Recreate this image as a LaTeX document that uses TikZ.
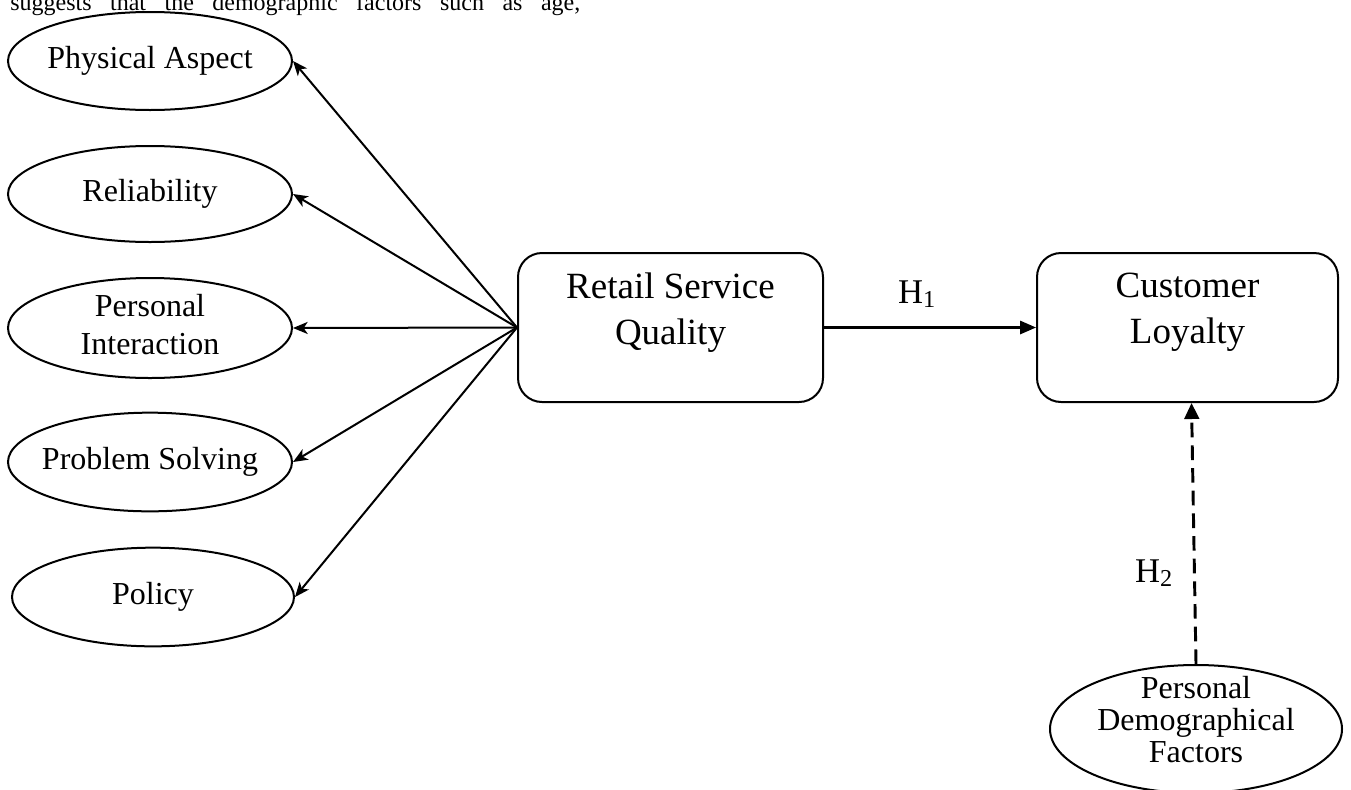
\documentclass[tikz,border=0pt]{standalone}
\usepackage{fontspec}
\setmainfont{Liberation Serif}
\usetikzlibrary{arrows.meta,shapes.geometric}
\begin{document}
\begin{tikzpicture}[x=0.75pt,y=-0.75pt,
  oval/.style={draw, ellipse, line width=1.5pt, inner sep=0pt},
  etxt/.style={font=\fontsize{24}{28.5}\selectfont, align=center},
  rbox/.style={draw, rounded corners=18pt, line width=1.5pt, minimum width=228.75pt, minimum height=111.75pt, inner sep=0pt},
  btxt/.style={font=\fontsize{27.75}{34.5}\selectfont, align=center},
  fan/.style={line width=1.5pt, -{Stealth[length=11pt,width=9pt,inset=3pt]}},
  solidarrow/.style={line width=1.6pt, -{Triangle[length=12pt,width=10pt]}},
  dasharrow/.style={line width=2.2pt, dash pattern=on 11pt off 6pt, -{Triangle[length=12pt,width=11pt]}},
  hyp/.style={font=\fontsize{26}{30}\selectfont, inner sep=0pt},
]
\useasboundingbox (0,0) rectangle (1351,789);

% top text line (cut off at the top edge, as in the reference)
\node[anchor=base west, font=\fontsize{18}{22}\selectfont, inner sep=0pt] (toptext) at (10,10)
  {\makebox[427.5pt][s]{suggests that the demographic factors such as age,}};

% ellipses
\node[oval, minimum width=213pt, minimum height=73.5pt,
  label={[etxt]center:Physical Aspect}] (pa) at (150,61) {};
\node[oval, minimum width=213pt, minimum height=72pt,
  label={[etxt]center:Reliability}] (rel) at (150,194) {};
\node[oval, minimum width=213pt, minimum height=75pt,
  label={[etxt,yshift=2.25pt]center:{Personal\\Interaction}}] (pi) at (150,328) {};
\node[oval, minimum width=213pt, minimum height=74pt,
  label={[etxt]center:Problem Solving}] (ps) at (150,462) {};
\node[oval, minimum width=211.5pt, minimum height=74pt,
  label={[etxt]center:Policy}] (pol) at (153,597) {};
\node[oval, minimum width=219pt, minimum height=96pt,
  label={[font=\fontsize{24}{24}\selectfont, align=center, yshift=6.75pt]center:{Personal\\Demographical\\Factors}}] (pdf) at (1196,729) {};

% boxes
\node[rbox, label={[btxt,yshift=11.25pt]center:{Retail Service\\Quality}}] (rsq) at (670.5,327.5) {};
\node[rbox, minimum width=225.75pt, label={[btxt,yshift=11.25pt]center:{Customer\\Loyalty}}] (cl) at (1187.5,327.5) {};

% fan arrows
\draw[fan] (rsq.west) -- (pa.east);
\draw[fan] (rsq.west) -- (rel.east);
\draw[fan] (rsq.west) -- (pi.east);
\draw[fan] (rsq.west) -- (ps.east);
\draw[fan] (rsq.west) -- (pol.east);

% hypotheses
\draw[solidarrow] (rsq.east) -- (cl.west);
\node[hyp, anchor=base] (h1) at (917,303) {H\textsubscript{1}};
\draw[dasharrow] (pdf.north) -- ([xshift=3pt]cl.south);
\node[hyp, anchor=base] (h2) at (1154,582) {H\textsubscript{2}};
\end{tikzpicture}
\end{document}
